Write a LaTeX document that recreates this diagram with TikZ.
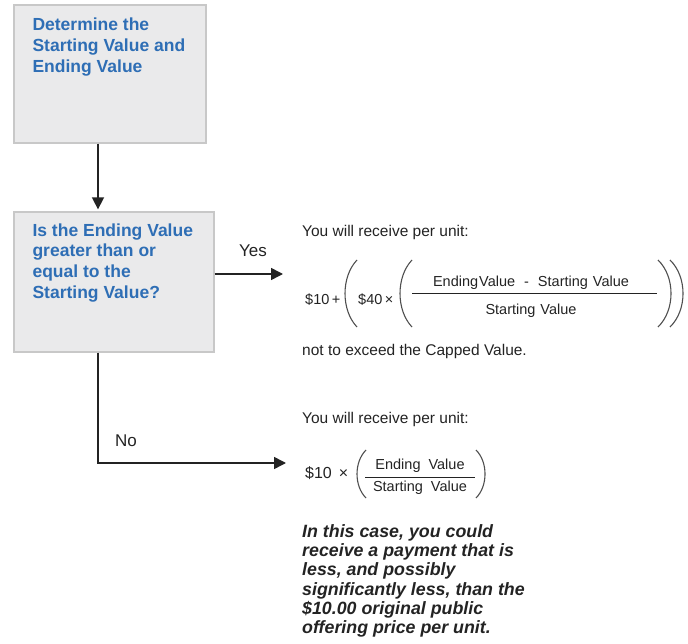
\documentclass[tikz,border=0pt]{standalone}
\usepackage{fontspec}
\setmainfont{Liberation Sans}
\usepackage{tikz}
\usetikzlibrary{arrows.meta,math}
\definecolor{BoxBlue}{RGB}{46,110,181}
\definecolor{BoxFill}{RGB}{234,234,235}
\definecolor{BoxLine}{RGB}{200,200,200}
\definecolor{InkGray}{RGB}{35,35,35}
\tikzset{%
  flow box/.style={draw=BoxLine, fill=BoxFill, line width=1.3pt, inner sep=0pt},
  box text/.style={anchor=north west, inner sep=0pt, align=left, text=BoxBlue,
    font=\fontsize{17.5}{21}\selectfont\bfseries},
  flow arrow/.style={draw=InkGray, line width=1.6pt, -{Triangle[length=12pt,width=12pt]}},
  plain text/.style={anchor=base west, inner sep=0pt, text=InkGray,
    font=\fontsize{15.5}{18}\selectfont},
  branch label/.style={anchor=base west, inner sep=0pt, text=InkGray,
    font=\fontsize{17}{20}\selectfont},
  formula/.style={anchor=base west, inner sep=0pt, text=InkGray,
    font=\fontsize{14.5}{16}\selectfont},
  frac part/.style={anchor=base, inner sep=0pt, text=InkGray,
    font=\fontsize{14.5}{16}\selectfont},
  paren/.style={draw=InkGray!80, line width=1.1pt},
  frac line/.style={draw=InkGray, line width=1pt}
}

\begin{document}
\begin{tikzpicture}[x=1pt,y=-1pt]
  \useasboundingbox (0,0) rectangle (688,644);
  % boxes
  \node[flow box, minimum width=192pt, minimum height=138pt] (start) at (110,74) {};
  \node[box text] (starttext) at ([xshift=19pt,yshift=-13pt]start.north west)
    {Determine the\\Starting Value and\\Ending Value};
  \node[flow box, minimum width=200pt, minimum height=140pt] (test) at (114,282) {};
  \node[box text, font=\fontsize{17.5}{20.7}\selectfont\bfseries] (testtext)
    at ([xshift=19pt,yshift=-12pt]test.north west)
    {Is the Ending Value\\greater than or\\equal to the\\Starting Value?};
  % connectors
  \coordinate (spine) at (98,0);
  \coordinate (yesend) at (283,274);
  \coordinate (noend) at (286,463);
  \draw[flow arrow, shorten >=2pt] (start.south -| spine) -- (test.north -| spine);
  \draw[flow arrow] (test.east |- yesend) -- (yesend);
  \draw[flow arrow] (test.south -| spine) |- (noend);
  \node[branch label] (yes) at (239,257) {Yes};
  \node[branch label] (no) at (115,446) {No};
  % yes branch
  \node[plain text] (yesintro) at (302,237) {You will receive per unit:};
  \node[formula] (ten) at (305,305) {\$10\,+};
  \node[formula] (forty) at (358,305) {\$40\,×};
  \node[frac part] (yesnum) at (531,287) {Ending\hspace{1pt}Value\hspace{9pt}-\hspace{9pt}Starting\hspace{5pt}Value};
  \node[frac part] (yesden) at (531,315) {Starting\hspace{5pt}Value};
  \draw[frac line] (412,294) -- (657,294);
  \node[plain text] (cap) at (302,355) {not to exceed the Capped Value.};
  % no branch
  \node[plain text] (nointro) at (302,423) {You will receive per unit:};
  \node[formula, font=\fontsize{16}{18}\selectfont] (tenb) at (305,478) {\$10\hspace{7pt}×};
  \node[frac part] (nonum) at (420,469) {Ending\hspace{8pt}Value};
  \node[frac part] (noden) at (420,491) {Starting\hspace{8pt}Value};
  \draw[frac line] (365,477) -- (475,477);
  \node[plain text, anchor=north west, font=\fontsize{17.8}{19.3}\selectfont\bfseries\itshape, align=left]
    (warning) at (302,524)
    {In this case, you could\\receive a payment that is\\less, and possibly\\significantly less, than the\\\$10.00 original public\\offering price per unit.};
  % parentheses
  \foreach \xt/\xm/\ya/\yb in {357/345/260/327, 412/400/260/327, 658/671/260/327,
      670/683/260/327, 366/357/450/498, 476/485/450/498} {
    \tikzmath{\xc = (\xm - 0.25*\xt)/0.75; \h = (\yb-\ya)/4;}
    \draw[paren] (\xt,\ya) .. controls (\xc,\ya+\h) and (\xc,\yb-\h) .. (\xt,\yb);
  }
\end{tikzpicture}
\end{document}
